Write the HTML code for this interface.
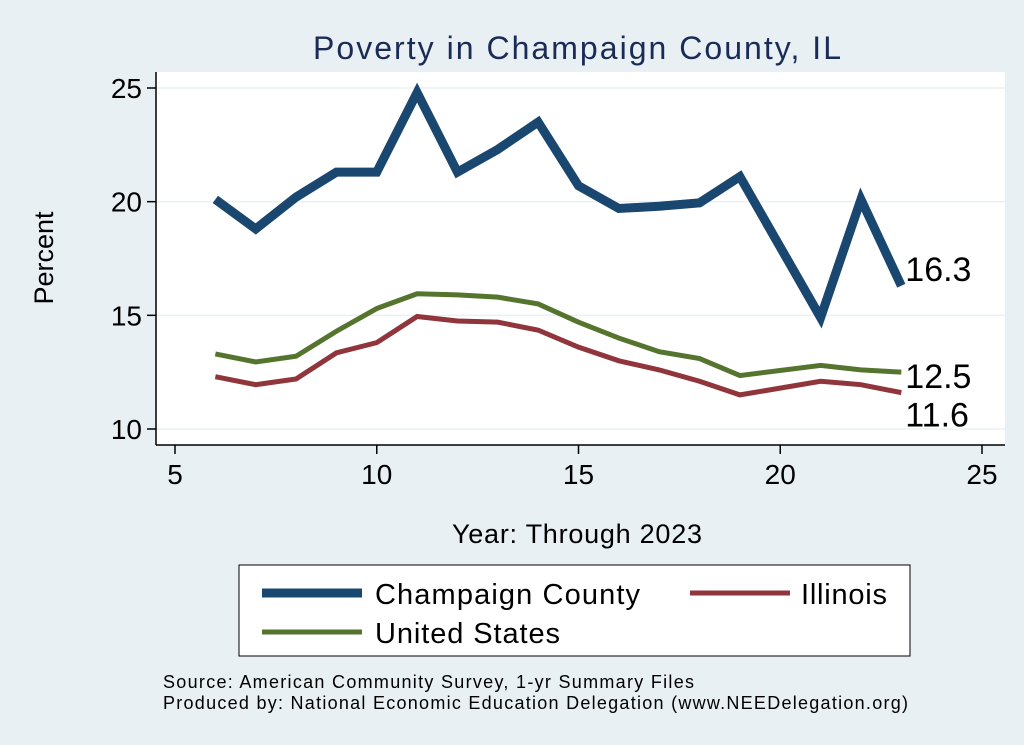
<!DOCTYPE html>
<html><head><meta charset="utf-8"><style>
body{margin:0;background:#e8f0f3;}
svg{display:block;font-family:"Liberation Sans",sans-serif;}
</style></head><body>
<svg width="1024" height="745">
<rect x="0" y="0" width="1024" height="745" fill="#e8f0f3"/>
<rect x="156" y="72" width="849" height="373" fill="#fff"/>
<text x="577" y="59" text-anchor="middle" font-size="32" textLength="528" fill="#1a2b57">Poverty in Champaign County, IL</text>
<g id="grid"></g>
<line x1="156" y1="72" x2="156" y2="445" stroke="#000" stroke-width="1.5"/>
<line x1="156" y1="445" x2="1005" y2="445" stroke="#000" stroke-width="1.5"/>
<g id="ticks"></g>
<g id="series"></g>
<text x="53" y="258" text-anchor="middle" font-size="27" transform="rotate(-90 53 258)">Percent</text>
<text x="577" y="543" text-anchor="middle" font-size="27" textLength="250">Year: Through 2023</text>
<rect x="239" y="565" width="671" height="91" fill="#fff" stroke="#000" stroke-width="1"/>
<g><line x1="262" y1="593" x2="362" y2="593" stroke="#1a476f" stroke-width="9"/><text x="375" y="604" font-size="29" textLength="265">Champaign County</text></g>
<g><line x1="690" y1="593" x2="790" y2="593" stroke="#90353b" stroke-width="5"/><text x="801" y="604" font-size="29" textLength="86">Illinois</text></g>
<g><line x1="262" y1="632" x2="362" y2="632" stroke="#55752f" stroke-width="5"/><text x="375" y="643" font-size="29" textLength="185">United States</text></g>
<text x="163" y="688" font-size="18" textLength="531">Source: American Community Survey, 1-yr Summary Files</text>
<text x="163" y="709" font-size="18" textLength="745">Produced by: National Economic Education Delegation (www.NEEDelegation.org)</text>
</svg>
<script>
const years=[6,7,8,9,10,11,12,13,14,15,16,17,18,19,21,22,23];
const champaign=[20.1,18.8,20.2,21.3,21.3,24.8,21.3,22.3,23.5,20.7,19.7,19.8,19.95,21.1,14.9,20.1,16.3];
const unitedStates=[13.3,12.95,13.2,14.3,15.3,15.95,15.9,15.8,15.5,14.7,14.0,13.4,13.1,12.35,12.8,12.6,12.5];
const illinois=[12.3,11.95,12.2,13.35,13.8,14.95,14.75,14.7,14.35,13.6,13.0,12.6,12.1,11.5,12.1,11.95,11.6];
const xTicks=[5,10,15,20,25];
const yTicks=[10,15,20,25];
const NS='http://www.w3.org/2000/svg';
const xs=v=>175+(v-5)*(982-175)/20;
const ys=v=>429-(v-10)*(429-88)/15;
function mk(t,a,p){const e=document.createElementNS(NS,t);for(const k in a)e.setAttribute(k,a[k]);p.appendChild(e);return e;}
const grid=document.getElementById('grid'),ticks=document.getElementById('ticks'),ser=document.getElementById('series');
yTicks.forEach(v=>{
 const g=mk('line',{x1:156,x2:1005,y1:ys(v),y2:ys(v),stroke:'#eaf0f3','stroke-width':1.5},grid);
 
 
 const t=mk('line',{x1:147,x2:156,y1:ys(v),y2:ys(v),stroke:'#000','stroke-width':1.5},ticks);
 
 
 const l=mk('text',{x:142,y:ys(v)+10,'text-anchor':'end','font-size':28},ticks);l.textContent=v;
 
 
});
xTicks.forEach(v=>{
 const t=mk('line',{x1:xs(v),x2:xs(v),y1:445,y2:454,stroke:'#000','stroke-width':1.5},ticks);
 
 
 const l=mk('text',{x:xs(v),y:484,'text-anchor':'middle','font-size':28},ticks);l.textContent=v;
 
 
});
function line(vals,color,w,name,dy){
 const p=mk('polyline',{points:years.map((y,i)=>xs(y)+','+ys(vals[i])).join(' '),fill:'none',stroke:color,'stroke-width':w,'stroke-linejoin':'miter'},ser);
 
 
 const last=vals[vals.length-1];
 const t=mk('text',{x:xs(years[years.length-1])+4,y:ys(last)+dy,'font-size':34},ser);t.textContent=last.toFixed(1);
 
 
}
line(illinois,'#90353b',5,'illinois-line',34);
line(unitedStates,'#55752f',5,'us-line',16);
line(champaign,'#1a476f',9,'champaign-line',-5);
</script>
</body></html>
